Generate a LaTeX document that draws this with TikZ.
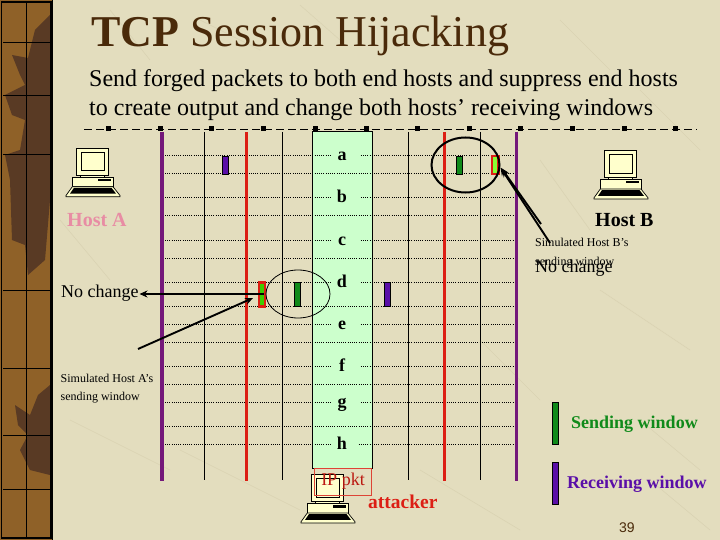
\documentclass[tikz,border=0pt]{standalone}
\usepackage{fontspec}
\usetikzlibrary{arrows.meta,shapes.geometric}
\setmainfont{Liberation Serif}
\newfontfamily\numfont{Liberation Sans}
\definecolor{paper}{HTML}{E3DDBE}
\definecolor{scratch}{HTML}{DAD3B3}
\definecolor{titlebrown}{HTML}{4A2A0A}
\definecolor{stripa}{HTML}{8F6128}
\definecolor{stripb}{HTML}{593A24}
\definecolor{winpurple}{HTML}{5A0FA8}
\definecolor{wingreen}{HTML}{108A1A}
\definecolor{linepurple}{HTML}{74187A}
\definecolor{linered}{HTML}{DC1E14}
\definecolor{mint}{HTML}{CCFFCC}
\definecolor{pc}{HTML}{FFFFCC}
\definecolor{hostpink}{HTML}{E88CA4}
\tikzset{
  txt/.style={anchor=base west,inner sep=0pt,font=#1},
  seq/.style={font=\fontsize{18}{18}\selectfont\bfseries,fill=mint,inner xsep=0pt,inner ysep=0pt,
     minimum width=29pt,text height=12.5pt,text depth=2.5pt,anchor=center},
  rowline/.style={line width=1pt,dash pattern=on 1pt off 1.2pt},
  thinv/.style={line width=1pt,black},
  thickv/.style={line width=3.5pt},
  win/.style={draw=black,line width=.9pt,fill=#1},
  ptr/.style={line width=1.9pt,-{Stealth[length=8pt,width=7pt]}},
  tick/.style={fill=black,minimum size=5pt,inner sep=0pt},
  pics/computer/.style={code={
    \draw[black,line width=.7pt,fill=pc] (10.3,0.3) rectangle (42.7,27);
    \draw[black,line width=.7pt] (15.3,4.3) rectangle (38.7,22.7);
    \draw[black,line width=.7pt,fill=pc] (14.7,27) rectangle (38,29.3);
    \draw[black,line width=.7pt,fill=pc] (6.3,29.3) rectangle (47,38.7);
    \fill[black] (32,31) rectangle (45,33.2);
    \draw[black,line width=.7pt,fill=pc] (6.3,38.7) -- (47,38.7) -- (54,47.5) -- (54,48.7) -- (0,48.7) -- (0,47.5) -- cycle;
    \fill[black] (8,39.8) -- (45.5,39.8) -- (50,45.6) -- (4,45.6) -- cycle;
  }}
}
\begin{document}
\begin{tikzpicture}[x=1pt,y=-1pt]
\useasboundingbox (0,0) rectangle (720,540);
\fill[paper] (0,0) rectangle (720,540);
% faint paper scratches
\foreach \a/\b/\c/\d in {110/10/150/60,300/5/340/40,560/20/610/70,640/90/700/150,540/160/590/230,600/290/690/350,
  70/420/170/470,180/450/300/510,420/470/520/530,60/220/110/280,480/340/540/400,640/420/700/470,200/20/260/50,650/480/710/530}
  \draw[scratch,line width=.6pt] (\a,\b) -- (\c,\d);
% left strip
\fill[stripa] (0,0) rectangle (53,540);
\fill[stripb] (50,15) -- (35,30) -- (28,58) -- (12,55) -- (20,75) -- (25,85) -- (5,95) -- (12,115) -- (25,120)
  -- (20,150) -- (5,155) -- (10,180) -- (12,240) -- (25,245) -- (28,275) -- (45,260) -- (50,200) -- cycle;
\fill[stripb] (50,385) -- (38,395) -- (30,415) -- (15,405) -- (18,425) -- (28,435) -- (20,450) -- (30,470) -- (50,475) -- cycle;
\draw[black,line width=.7pt] (26,3) -- (26,537);
\foreach \yy in {42,95,154,290,368,435,489} \draw[black,line width=.7pt] (3,\yy) -- (50,\yy);
\draw[black,line width=1.3pt] (1.5,2) rectangle (51,538);
\draw[black,line width=1pt] (52.7,0) -- (52.7,540);
% title
\node[txt=\fontsize{44}{44}\selectfont,text=titlebrown] (title) at (91,47) {\textbf{TCP} Session Hijacking};
\node[txt=\fontsize{24}{24}\selectfont] (line1) at (89,87) {Send forged packets to both end hosts and suppress end hosts};
\node[txt=\fontsize{24}{24}\selectfont] (line2) at (89,116) {to create output and change both hosts’ receiving windows};
% dashed rule
\draw[line width=.8pt,dash pattern=on 8pt off 4pt] (84,129) -- (697,129);
\foreach \xx in {108,160,211,263,315,366,417,469,520,572,624,675} \node[tick] at (\xx,129) {};
% green column
\fill[mint] (312.5,132) rectangle (372.5,468);
% rows
\foreach \yy in {156,174,198,216,240,258,282,306,324,342,366,384,402,426,444}
  \draw[rowline] (165,\yy) -- (515,\yy);
\draw[black,line width=1pt] (312.5,132) rectangle (372.5,468);
\foreach \n/\t/\yy in {la/a/156,lb/b/198,lc/c/240,ld/d/282,le/e/324,lf/f/366,lg/g/402}
  \node[seq] (\n) at (345.5,\yy) {\hspace*{-7pt}\t};
\node[seq,minimum width=26pt] (lh) at (344,444) {\hspace*{-4pt}h};
% verticals
\foreach \xx in {204.5,282.5,408.5,480.5} \draw[thinv] (\xx,132) -- (\xx,480);
\foreach \xx in {246.5,444.5} \draw[thickv,linered] (\xx,132) -- (\xx,481);
\foreach \xx in {162,516.5} \draw[thickv,linepurple] (\xx,132) -- (\xx,481);
% windows
\draw[win=winpurple] (222.5,156) rectangle (228.5,174);
\draw[win=wingreen] (294.5,282) rectangle (300.5,306);
\draw[win=winpurple] (384.5,282) rectangle (390.5,306);
\draw[win=wingreen] (456.5,156) rectangle (462.5,174);
\fill[linered] (257.5,281) rectangle (266,307.5);
\fill[green!70!yellow!80!black] (260,283.5) rectangle (263.7,305);
\fill[linered] (491,155) rectangle (500,175.5);
\fill[green!60!yellow!80] (493,157.5) rectangle (497,173);
% ellipses
\node[draw=black,line width=.8pt,ellipse,minimum width=64pt,minimum height=48pt,inner sep=0pt] (ea) at (298,294) {};
\node[draw=black,line width=2pt,ellipse,minimum width=68pt,minimum height=55pt,inner sep=0pt] (eb) at (465.5,165) {};
% computers
\pic at (66,148) {computer};
\pic at (594,150.3) {computer};
\pic at (301,474.3) {computer};
% labels
\node[txt=\fontsize{20}{20}\selectfont\bfseries,text=hostpink] (hosta) at (67,226) {Host A};
\node[txt=\fontsize{20}{20}\selectfont\bfseries] (hostb) at (595,226) {Host B};
\node[txt=\fontsize{18}{18}\selectfont] (nca) at (61,297) {No change};
\node[txt=\fontsize{12}{12}\selectfont] (simb1) at (535,247) {Simulated Host B’s};
\node[txt=\fontsize{12}{12}\selectfont] (simb2) at (535,265) {sending window};
\node[txt=\fontsize{18}{18}\selectfont] (ncb) at (535,272.5) {No change};
\node[txt=\fontsize{12}{12}\selectfont] (sima1) at (60.5,382) {Simulated Host A’s};
\node[txt=\fontsize{12}{12}\selectfont] (sima2) at (60.5,400) {sending window};
% IP pkt
\node[draw=linered!80!paper,line width=.8pt,minimum width=57.4pt,minimum height=27pt,inner sep=0pt,
  text=linered!85!black,font=\fontsize{18}{18}\selectfont] (ip) at (343,481.5) {IP pkt};
\node[txt=\fontsize{19.5}{20}\selectfont\bfseries,text=linered] (att) at (368,508) {attacker};
% legend
\draw[win=wingreen] (552.5,402) rectangle (558.5,444);
\draw[win=winpurple] (552.5,462) rectangle (558.5,504);
\node[txt=\fontsize{18}{18}\selectfont\bfseries,text=wingreen] (send) at (571,428) {Sending window};
\node[txt=\fontsize{18}{18}\selectfont\bfseries,text=winpurple] (recv) at (567,488.5) {Receiving window};
\node[txt=\fontsize{14}{14}\selectfont\numfont,text=titlebrown] (pg) at (619,532) {39};
% arrows
\coordinate (wa) at (264,294);
\coordinate (ncend) at (139.5,294);
\coordinate (sa) at (138,349);
\coordinate (sat) at (253,298);
\coordinate (sb1) at (550,243);
\coordinate (sb2) at (541,224);
\coordinate (sbt1) at (500.5,167.5);
\coordinate (sbt2) at (502,169);
\draw[ptr] (wa) -- (ncend);
\draw[ptr] (sa) -- (sat);
\draw[ptr] (sb1) -- (sbt1);
\draw[ptr] (sb2) -- (sbt2);
\end{tikzpicture}
\end{document}
